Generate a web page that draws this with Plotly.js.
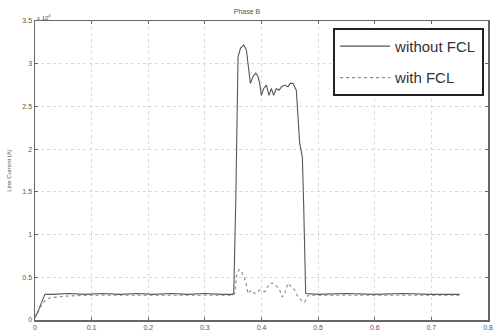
<!DOCTYPE html>
<html>
<head>
<meta charset="utf-8">
<script src="https://cdn.plot.ly/plotly-3.0.1.min.js"></script>
<style>html,body{margin:0;padding:0;background:#fff;}#chart{width:494px;height:334px;}</style>
</head>
<body>
<div id="chart"></div>
<script>
// Time (s)
var tWithout = [0, 0.004, 0.010, 0.0176, 0.03, 0.06, 0.09, 0.12, 0.15, 0.18, 0.21, 0.24, 0.27, 0.30, 0.33, 0.349,
  0.351, 0.3545, 0.3586, 0.3628, 0.3686, 0.3733, 0.3762, 0.3804, 0.385, 0.3898, 0.3938, 0.3968, 0.3998, 0.4039,
  0.4086, 0.4132, 0.4174, 0.4215, 0.4262, 0.4309, 0.4356, 0.4409, 0.4467, 0.4509, 0.4556, 0.4615, 0.4674,
  0.4721, 0.4744, 0.478, 0.50, 0.55, 0.60, 0.65, 0.70, 0.75];
// Line current without FCL (x 10^4 A)
var iWithout = [0.04, 0.08, 0.18, 0.30, 0.30, 0.31, 0.30, 0.31, 0.30, 0.31, 0.30, 0.31, 0.30, 0.31, 0.30, 0.30,
  0.32, 1.37, 3.08, 3.18, 3.22, 3.16, 3.00, 2.77, 2.85, 2.89, 2.85, 2.77, 2.63, 2.71,
  2.75, 2.63, 2.71, 2.63, 2.71, 2.69, 2.73, 2.75, 2.73, 2.77, 2.77, 2.69, 2.07,
  1.91, 1.37, 0.31, 0.30, 0.31, 0.30, 0.31, 0.30, 0.30];

var tWith = [0, 0.005, 0.0147, 0.026, 0.056, 0.09, 0.12, 0.15, 0.18, 0.21, 0.24, 0.27, 0.30, 0.33, 0.350,
  0.3527, 0.3557, 0.3603, 0.3645, 0.3686, 0.3721, 0.3762, 0.3821, 0.388, 0.3968, 0.4056, 0.4145, 0.4203,
  0.4274, 0.4321, 0.4368, 0.4409, 0.4467, 0.4527, 0.4586, 0.4644, 0.4704, 0.4762, 0.4821, 0.50, 0.55, 0.60,
  0.65, 0.70, 0.75];
// Line current with FCL (x 10^4 A)
var iWith = [0.02, 0.08, 0.21, 0.26, 0.28, 0.29, 0.29, 0.29, 0.29, 0.29, 0.29, 0.29, 0.29, 0.29, 0.29,
  0.31, 0.51, 0.59, 0.57, 0.51, 0.45, 0.31, 0.35, 0.31, 0.35, 0.33, 0.43, 0.43,
  0.39, 0.35, 0.27, 0.31, 0.43, 0.39, 0.35, 0.27, 0.23, 0.21, 0.29, 0.29, 0.29, 0.29,
  0.29, 0.29, 0.29];

var xTicks = [0, 0.1, 0.2, 0.3, 0.4, 0.5, 0.6, 0.7, 0.8];
var yTicks = [0, 0.5, 1, 1.5, 2, 2.5, 3, 3.5];
var seriesNames = ['without FCL', 'with FCL'];

var traces = [
  {x: tWithout, y: iWithout, name: seriesNames[0], type: 'scatter', mode: 'lines',
   line: {color: '#555555', width: 1.1}, legendgroup: 'a'},
  {x: tWith, y: iWith, name: seriesNames[1], type: 'scatter', mode: 'lines',
   line: {color: '#888888', width: 1.1, dash: 'dot'}, legendgroup: 'b'}
];

var axisCommon = {
  showline: true, mirror: 'ticks', linecolor: '#666', linewidth: 1.5,
  ticks: 'inside', ticklen: 3, tickcolor: '#666',
  showgrid: true, gridcolor: '#dadada', griddash: 'dot', gridwidth: 1,
  zeroline: false, tickfont: {family: 'Arial, Liberation Sans', size: 7, color: '#555'}
};

var layout = {
  width: 494, height: 334,
  margin: {l: 35, r: 6, t: 21, b: 14},
  paper_bgcolor: '#fff', plot_bgcolor: '#fff',
  title: {text: 'Phase B', font: {family: 'Arial, Liberation Sans', size: 7, color: '#555'},
          x: 0.5, xanchor: 'center', y: 0.965, yanchor: 'middle'},
  xaxis: Object.assign({}, axisCommon, {range: [0, 0.8], tickvals: xTicks,
          ticktext: xTicks.map(String)}),
  yaxis: Object.assign({}, axisCommon, {range: [0, 3.5], tickvals: yTicks,
          ticktext: yTicks.map(String),
          title: {text: 'Line Current (A)', font: {family: 'Arial, Liberation Sans', size: 6, color: '#555'}, standoff: 10}}),
  showlegend: true,
  legend: {x: 0.658, y: 0.977, xanchor: 'left', yanchor: 'top',
           bgcolor: '#fff', bordercolor: '#222', borderwidth: 2,
           font: {family: 'Arial, Liberation Sans', size: 15, color: '#333'},
           traceorder: 'grouped', tracegroupgap: 9, itemwidth: 50},
  annotations: [
    {text: 'x 10<sup>4</sup>', xref: 'paper', yref: 'paper', x: 0, y: 1, xanchor: 'left', yanchor: 'bottom',
     showarrow: false, font: {family: 'Arial, Liberation Sans', size: 6, color: '#555'}, yshift: -2}
  ]
};

Plotly.newPlot('chart', traces, layout, {displayModeBar: false, staticPlot: true});
</script>
</body>
</html>
